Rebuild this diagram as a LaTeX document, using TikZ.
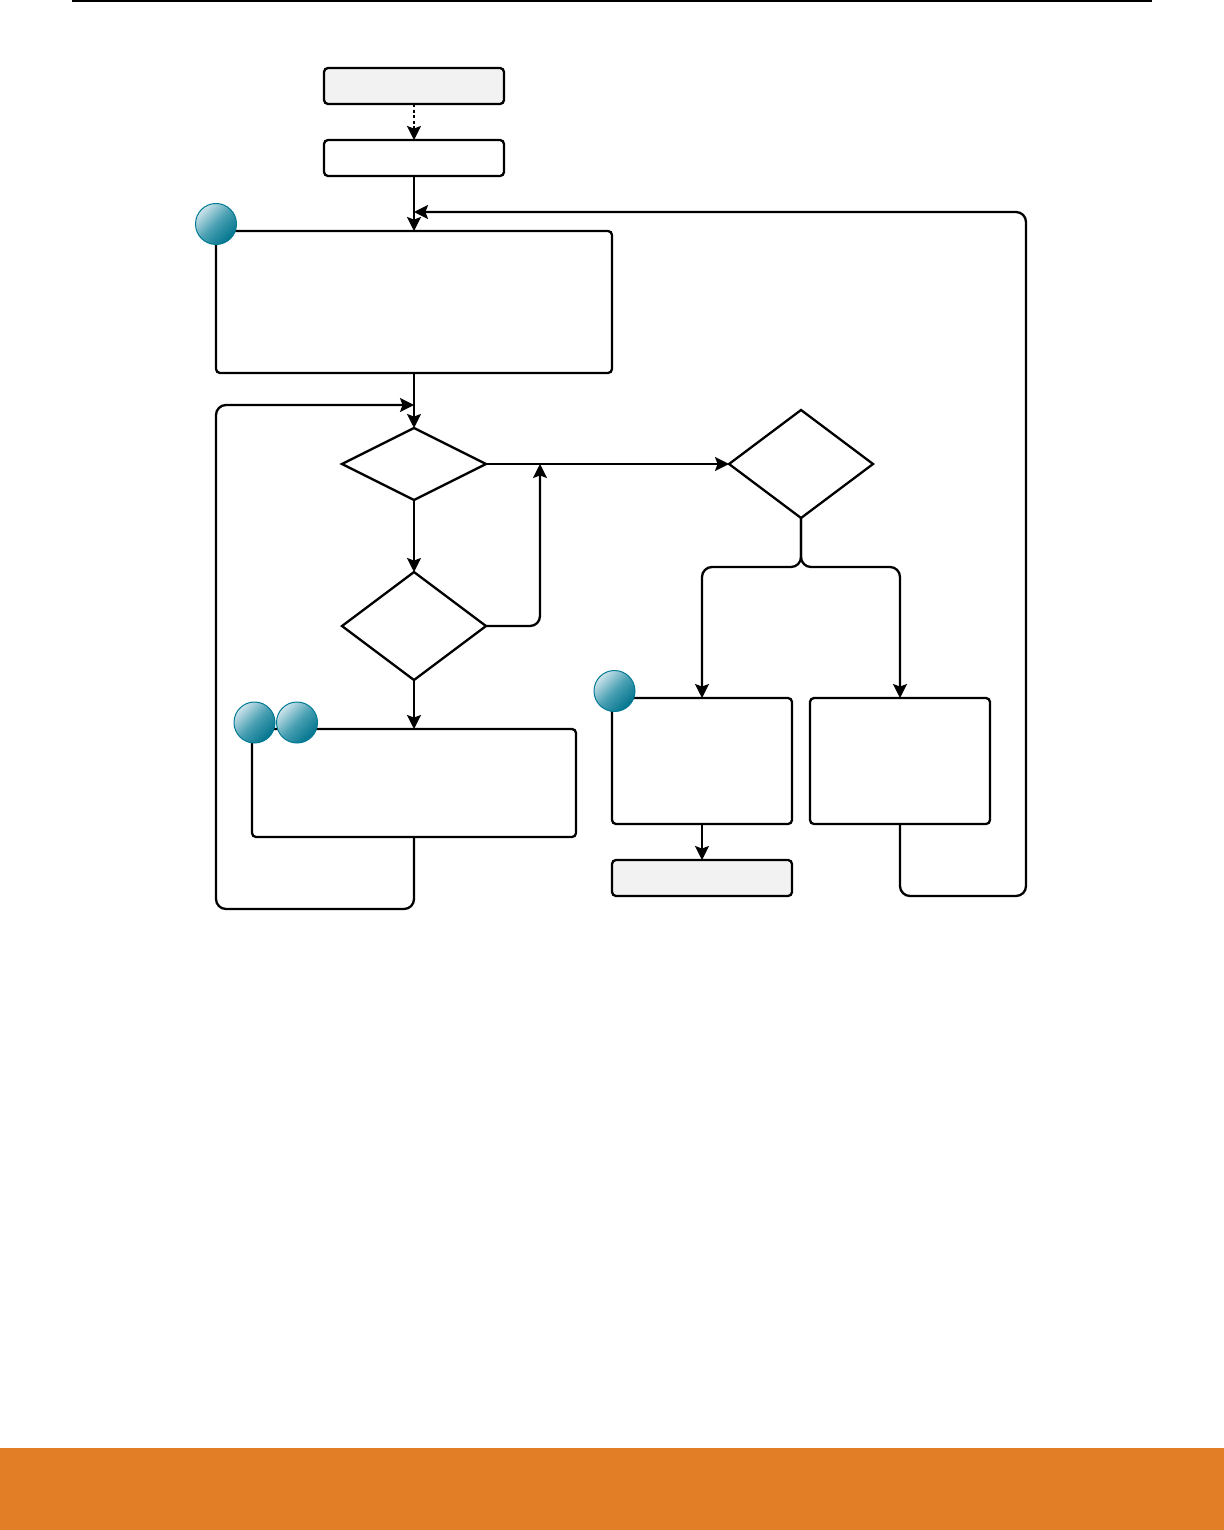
\documentclass[tikz,border=0pt]{standalone}
\usepackage{xcolor}
\definecolor{primary}{RGB}{0, 0, 0}
\definecolor{muted}{RGB}{242, 242, 242}
\definecolor{footer}{RGB}{225, 126, 38}
\definecolor{ballrim}{RGB}{0, 122, 148}
\definecolor{balllight}{RGB}{205, 228, 235}
\usetikzlibrary{shapes.geometric,arrows.meta,positioning}

\begin{document}
\begin{tikzpicture}[
  x=1pt, y=1pt,
  flowbox/.style={draw=primary, fill=white, rounded corners=2pt, line width=1.15pt, inner sep=0pt, outer sep=0pt, minimum width=90pt},
  termbox/.style={flowbox, fill=muted, minimum height=18pt},
  stepbox/.style={flowbox, minimum height=18pt},
  decision/.style={draw=primary, fill=white, diamond, line width=1.15pt, inner sep=0pt, outer sep=0pt, minimum width=72pt},
  marker/.style={circle, draw=ballrim, line width=0.5pt, inner sep=0pt, minimum size=20.5pt, top color=balllight, bottom color=ballrim!95!black, middle color=ballrim!65!balllight, shading angle=45},
  arrow/.style={-{Stealth[length=7pt, width=7pt, inset=1.3pt]}, line width=1.15pt, color=primary, rounded corners=5pt}
]
\useasboundingbox (0,0) rectangle (612,-765);
\fill[footer] (0,-724) rectangle (612,-765);
\draw[line width=0.75pt] (36,-0.4) -- (576,-0.4);

\node[termbox] (entry) at (207,-43) {};
\node[stepbox, below=18pt of entry] (setup) {};
\node[flowbox, minimum width=198pt, minimum height=71pt, below=27.5pt of setup] (scan) {};
\node[decision, minimum height=36pt, below=27.5pt of scan] (check_a) {};
\node[decision, minimum height=54pt, below=36pt of check_a] (check_b) {};
\node[flowbox, minimum width=162pt, minimum height=54pt, below=24.5pt of check_b] (update) {};
\node[decision, minimum height=54pt, right=121.5pt of check_a] (check_c) {};

\node[flowbox, minimum height=63pt] (finish) at (351,-380.5) {};
\node[flowbox, minimum height=63pt, right=9pt of finish] (retry) {};
\node[termbox, below=18pt of finish] (done) {};

\node[marker] (mark_scan) at ([yshift=3.5pt]scan.north west) {};
\node[marker] (mark_update_a) at ([xshift=1.25pt, yshift=3.25pt]update.north west) {};
\node[marker] (mark_update_b) at ([xshift=22.5pt, yshift=3.25pt]update.north west) {};
\node[marker] (mark_finish) at ([xshift=1.25pt, yshift=3.5pt]finish.north west) {};

\coordinate (join_top) at (207,-106);
\coordinate (join_left) at (207,-202.5);
\coordinate (join_mid) at (270,-232);
\coordinate (fork) at ([yshift=-24.5pt]check_c.south);
\coordinate (loop_right) at (513,-448);
\coordinate (loop_left) at (108,-454.5);

\draw[arrow, dash pattern=on 1.5pt off 1.3pt] (entry) -- (setup);
\draw[arrow] (setup) -- (scan);
\draw[arrow] (scan) -- (check_a);
\draw[arrow] (check_a) -- (check_b);
\draw[arrow] (check_b) -- (update);
\draw[arrow] (check_a) -- (check_c);
\draw[arrow] (finish) -- (done);

\draw[arrow] (check_b.east) -| (join_mid);
\draw[arrow] (check_c.south) -- (fork) -| (finish.north);
\draw[arrow] (check_c.south) -- (fork) -| (retry.north);
\draw[arrow] (update.south) |- (loop_left) |- (join_left);
\draw[arrow] (retry.south) |- (loop_right) |- (join_top);
\end{tikzpicture}
\end{document}
